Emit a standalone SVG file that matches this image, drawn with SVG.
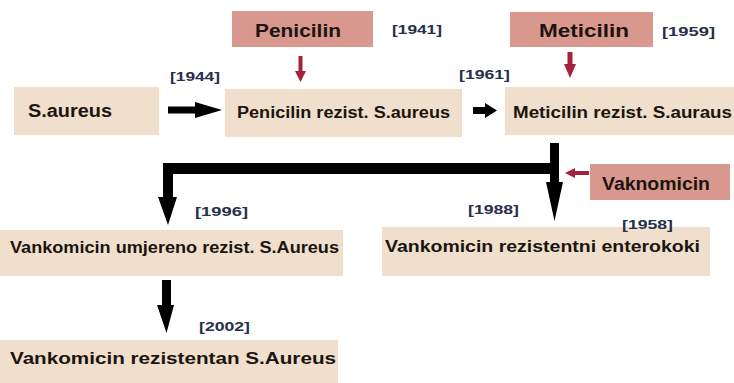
<svg xmlns="http://www.w3.org/2000/svg" width="734" height="383" viewBox="0 0 734 383">
<style>
.box{fill:#efdfcc}
.drug{fill:#d9988d}
.lbl{font-family:"Liberation Sans",Arial,sans-serif;font-weight:bold;fill:#1c1410}
.yr{font-family:"Liberation Sans",Arial,sans-serif;font-size:13px;font-weight:bold;fill:#25304a}
.blk{fill:#000}
.red{fill:#a3233a}
</style>
<rect width="734" height="383" fill="#fff"/>
<g id="connectors">
  <path class="blk" d="M168,106.5 H195 V102 L222,110 L195,118 V113.5 H168 Z"/>
  <path class="blk" d="M473,107 H485 V103 L497,110.5 L485,118 V114 H473 Z"/>
  <path class="blk" d="M550,143 H559 V182 H563 L554.5,221 L546,182 H550 Z"/>
  <path class="blk" d="M163,163 H552 V174 H173 V197 H177 L168,225 L158,197 H163 Z"/>
  <path class="blk" d="M162,280 H171 V305 H174 L166.5,333 L157,305 H162 Z"/>
  <path class="red" d="M298.5,56 H302.5 V71 H306 L300.5,82 L295,71 H298.5 Z"/>
  <path class="red" d="M567.5,52 H572.5 V64 H576 L570,78 L564,64 H567.5 Z"/>
  <path class="red" d="M589,171 H575 V168 L565,173 L575,178 V175 H589 Z"/>
</g>
<g id="n-saureus">
  <rect class="box" x="14" y="87" width="145" height="48"/>
  <text class="lbl" x="28" y="117" font-size="18" textLength="84" lengthAdjust="spacingAndGlyphs">S.aureus</text>
</g>
<g id="n-penicilin-rezist">
  <rect class="box" x="225" y="89" width="237" height="48"/>
  <text class="lbl" x="237" y="118" font-size="16" textLength="213" lengthAdjust="spacingAndGlyphs">Penicilin rezist. S.aureus</text>
</g>
<g id="n-meticilin-rezist">
  <rect class="box" x="505" y="87" width="229" height="48"/>
  <text class="lbl" x="513" y="118" font-size="16" textLength="219" lengthAdjust="spacingAndGlyphs">Meticilin rezist. S.auraus</text>
</g>
<g id="n-penicilin">
  <rect class="drug" x="232" y="11" width="141" height="36"/>
  <text class="lbl" x="255" y="37" font-size="18" textLength="86" lengthAdjust="spacingAndGlyphs">Penicilin</text>
</g>
<g id="n-meticilin">
  <rect class="drug" x="510" y="12" width="143" height="35"/>
  <text class="lbl" x="539" y="37" font-size="18" textLength="90" lengthAdjust="spacingAndGlyphs">Meticilin</text>
</g>
<g id="n-vaknomicin">
  <rect class="drug" x="590" y="164" width="140" height="36"/>
  <text class="lbl" x="602" y="190" font-size="19" textLength="108" lengthAdjust="spacingAndGlyphs">Vaknomicin</text>
</g>
<g id="n-vank-umjereno">
  <rect class="box" x="0" y="230" width="343" height="46"/>
  <text class="lbl" x="10" y="253" font-size="16" textLength="329" lengthAdjust="spacingAndGlyphs">Vankomicin umjereno rezist. S.Aureus</text>
</g>
<g id="n-vank-rezistentan">
  <rect class="box" x="0" y="340" width="338" height="43"/>
  <text class="lbl" x="10" y="364" font-size="16" textLength="326" lengthAdjust="spacingAndGlyphs">Vankomicin rezistentan S.Aureus</text>
</g>
<g id="n-vank-enterokoki">
  <rect class="box" x="382" y="227" width="328" height="49"/>
  <text class="lbl" x="385" y="252" font-size="16" textLength="315" lengthAdjust="spacingAndGlyphs">Vankomicin rezistentni enterokoki</text>
</g>
<g id="years">
  <text class="yr" x="170" y="81" textLength="50" lengthAdjust="spacingAndGlyphs">[1944]</text>
  <text class="yr" x="392" y="34" textLength="50" lengthAdjust="spacingAndGlyphs">[1941]</text>
  <text class="yr" x="662" y="36" textLength="53" lengthAdjust="spacingAndGlyphs">[1959]</text>
  <text class="yr" x="459" y="79" textLength="51" lengthAdjust="spacingAndGlyphs">[1961]</text>
  <text class="yr" x="195" y="216" textLength="53" lengthAdjust="spacingAndGlyphs">[1996]</text>
  <text class="yr" x="199" y="331" textLength="51" lengthAdjust="spacingAndGlyphs">[2002]</text>
  <text class="yr" x="468" y="214" textLength="51" lengthAdjust="spacingAndGlyphs">[1988]</text>
  <text class="yr" x="622" y="229" textLength="51" lengthAdjust="spacingAndGlyphs">[1958]</text>
</g>
</svg>
